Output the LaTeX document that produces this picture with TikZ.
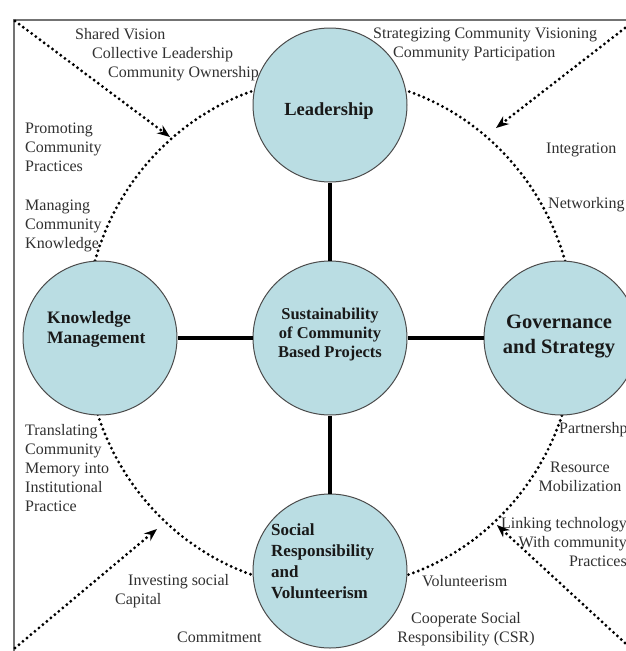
\documentclass[tikz,border=0pt]{standalone}
\usepackage{fontspec}
\setmainfont{Liberation Serif}
\usetikzlibrary{arrows.meta}
\definecolor{hubfill}{RGB}{186,221,227}
\definecolor{inkgray}{RGB}{48,48,48}

\begin{document}
\begin{tikzpicture}[x=1pt,y=-1pt,
    hub/.style={circle,draw=black!70,line width=1pt,fill=hubfill,minimum size=154pt,inner sep=0pt},
    spoke/.style={line width=3.6pt},
    ringdots/.style={line width=3.2pt,line cap=round,dash pattern=on 0pt off 5.2pt},
    pointer/.style={ringdots,-{Stealth[length=13pt,width=10pt,line width=0pt]}},
    tag/.style={font=\fontsize{16}{19}\selectfont,text=inkgray,inner sep=0pt,align=left},
    hubtext/.style={text=black!90,inner sep=0pt}]
    \useasboundingbox (0,0) rectangle (626,651);
    \clip (0,0) rectangle (626,651);

    % frame
    \draw[black!55,line width=1.5pt] (626,20) -- (14,20) -- (14,651);

    % labels round the ring (multi-line ones sit on their last line)
    \node[tag,anchor=base west] (shared) at (75,39) {Shared Vision};
    \node[tag,anchor=base west] (collect) at (92,58) {Collective Leadership};
    \node[tag,anchor=base west] (owner) at (108,77) {Community Ownership};
    \node[tag,anchor=base west] (strat) at (373,38) {Strategizing Community Visioning};
    \node[tag,anchor=base west] (partic) at (393,57) {Community Participation};
    \node[tag,anchor=base west] (promo) at (25,171) {Promoting\\Community\\Practices};
    \node[tag,anchor=base west] (manage) at (25,248) {Managing\\Community\\Knowledge};
    \node[tag,anchor=base west] (integ) at (546,153) {Integration};
    \node[tag,anchor=base west] (network) at (548,208) {Networking};
    \node[tag,anchor=base west] (translate) at (25,511) {Translating\\Community\\Memory into\\Institutional\\Practice};
    \node[tag,anchor=base west] (partner) at (559,433) {Partnershp};
    \node[tag,anchor=base,align=center] (resource) at (580,491) {Resource\\Mobilization};
    \node[tag,anchor=base east,align=right] (linking) at (627,566) {Linking technology\\With community\\Practices};
    \node[tag,anchor=base west] (volunt) at (422,586) {Volunteerism};
    \node[tag,anchor=base,align=center] (csr) at (466,642) {Cooperate Social\\Responsibility (CSR)};
    \node[tag,anchor=base west] (invest) at (115,604) {\hspace*{13pt}Investing social\\Capital};
    \node[tag,anchor=base west] (commit) at (177,642) {Commitment};

    % dotted ring and the four pointers
    \draw[ringdots] (330,333) ellipse [x radius=245pt, y radius=255pt];
    \coordinate (tl) at (15,21);
    \coordinate (tl-tip) at (170,137);
    \coordinate (tr) at (625,28);
    \coordinate (tr-tip) at (496,128);
    \coordinate (bl) at (15,648);
    \coordinate (bl-tip) at (157,529);
    \coordinate (br) at (625,643);
    \coordinate (br-tip) at (497,525);
    \draw[pointer] (tl) -- (tl-tip);
    \draw[pointer] (tr) -- (tr-tip);
    \draw[pointer] (bl) -- (bl-tip);
    \draw[pointer] (br) -- (br-tip);

    % circles
    \node[hub] (lead) at (330,105) {};
    \node[hub] (core) at (330,338) {};
    \node[hub] (know) at (100,338) {};
    \node[hub] (gov) at (561,338) {};
    \node[hub] (soc) at (330,571) {};

    \draw[spoke] (lead) -- (core);
    \draw[spoke] (know) -- (core);
    \draw[spoke] (core) -- (gov);
    \draw[spoke] (core) -- (soc);

    \node[hubtext,anchor=base,font=\bfseries\fontsize{18.5}{22}\selectfont] (lead-t) at (329,115) {Leadership};
    \node[hubtext,anchor=base west,align=left,font=\bfseries\fontsize{17.5}{20}\selectfont] (know-t) at (47,343) {Knowledge\\Management};
    \node[hubtext,anchor=base,align=center,font=\bfseries\fontsize{16.5}{19}\selectfont] (core-t) at (330,357) {Sustainability\\of Community\\Based Projects};
    \node[hubtext,anchor=base,align=center,font=\bfseries\fontsize{20.5}{25}\selectfont] (gov-t) at (559,353) {Governance\\and Strategy};
    \node[hubtext,anchor=base west,align=left,font=\bfseries\fontsize{17}{21}\selectfont] (soc-t) at (271,598) {Social\\Responsibility\\and\\Volunteerism};

\end{tikzpicture}
\end{document}
